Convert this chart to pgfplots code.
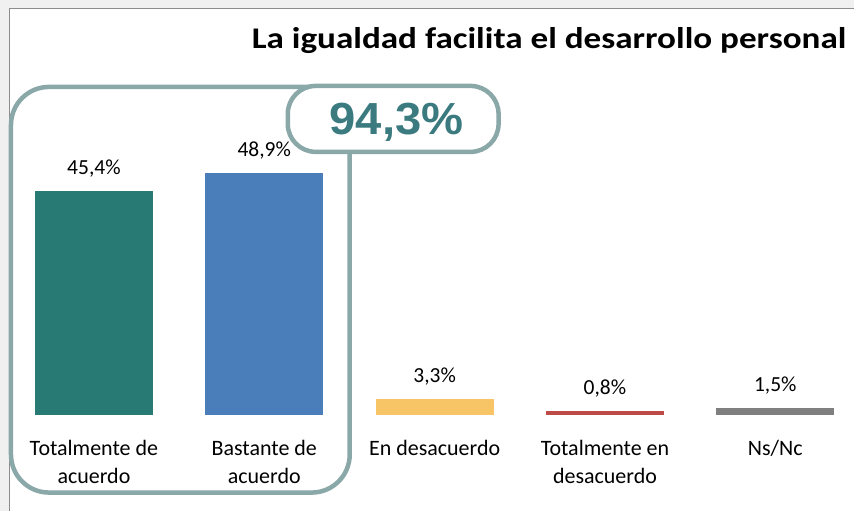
\documentclass[border=0pt]{standalone}
\usepackage{pgfplots}
\pgfplotsset{compat=1.18}
\usepackage{fontspec}
\setmainfont{Carlito}
\newfontfamily\arialf{Liberation Sans}
\definecolor{cTeal}{HTML}{287B74}
\definecolor{cBlue}{HTML}{4A7EBB}
\definecolor{cYellow}{HTML}{F7C566}
\definecolor{cRed}{HTML}{BE4B48}
\definecolor{cGray}{HTML}{7F7F7F}
\definecolor{cFrame}{HTML}{8BA8A9}
\definecolor{cPct}{HTML}{3B7B80}
\definecolor{cBg}{HTML}{F0F0F0}
\definecolor{cLine}{HTML}{8C8C8C}
\begin{document}
\begin{tikzpicture}[x=1pt,y=1pt]
\fill[cBg] (0,0) rectangle (855,511);
\fill[white] (9.5,0) rectangle (855,502.5);
\draw[line width=1.5pt, cLine] (9.5,0) -- (9.5,502.5) -- (855,502.5);
\begin{axis}[
  at={(8.75pt,95.5pt)}, anchor=south west,
  scale only axis, width=843.975pt, height=297pt,
  xmin=-0.5, xmax=4.45, ymin=0, ymax=60,
  axis line style={draw=none}, tick style={draw=none},
  ytick=\empty, xtick={0,1,2,3,4},
  xticklabels={{Totalmente de\\acuerdo},{Bastante de\\acuerdo},{En desacuerdo},{Totalmente en\\desacuerdo},{Ns/Nc}},
  xticklabel style={align=center, font=\fontsize{22}{28}\selectfont, inner sep=0pt, yshift=-21pt},
  ybar, bar width=118pt, bar shift=0pt,
  /pgf/number format/assume math mode=true,
  nodes near coords={\pgfmathprintnumber[fixed,fixed zerofill,precision=1,use comma,assume math mode=true]{\pgfplotspointmeta}\%},
  every node near coord/.append style={anchor=base, yshift=16.5pt, inner sep=0pt, font=\fontsize{21.5}{26}\selectfont, black},
  clip=false,
]
\addplot[fill=cTeal, draw=none] coordinates {(0,45.4)};
\addplot[fill=cBlue, draw=none] coordinates {(1,48.9)};
\addplot[fill=cYellow, draw=none] coordinates {(2,3.3)};
\addplot[fill=cRed, draw=none] coordinates {(3,0.8)};
\addplot[fill=cGray, draw=none] coordinates {(4,1.5)};
\end{axis}
\draw[cFrame, line width=4.5pt, rounded corners=38pt] (11,18) rectangle (350,424);
\draw[cFrame, line width=4.5pt, fill=white, rounded corners=28pt] (288,359) rectangle (499,425);
\node[anchor=base, inner sep=0pt, text=cPct] at (397,376) {\arialf\bfseries\fontsize{45}{45}\selectfont\scalebox{1.05}[1]{94,3\%}};
\node[anchor=base, inner sep=0pt] at (549.5,462) {\resizebox{595pt}{\height}{\bfseries\fontsize{30}{33}\selectfont La igualdad facilita el desarrollo personal}};
\end{tikzpicture}
\end{document}
